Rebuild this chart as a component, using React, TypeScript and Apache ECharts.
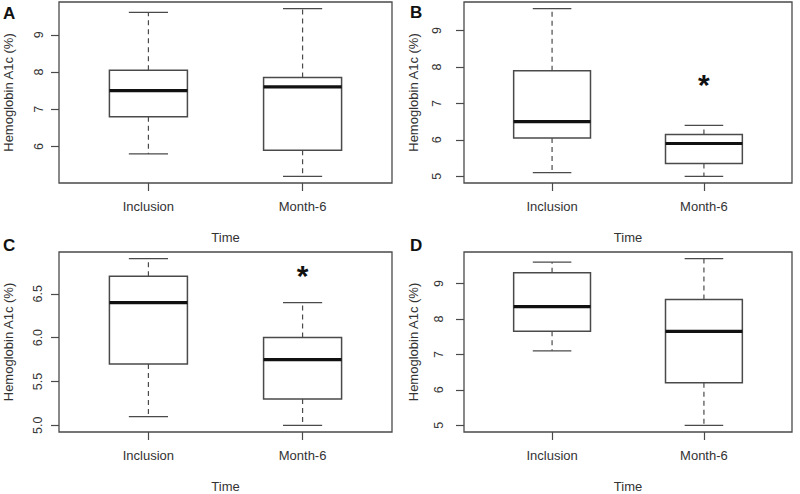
import React, { useEffect, useRef } from "react";
import * as echarts from "echarts";

// ---- data ----
const categories = ["Inclusion", "Month-6"];
// each row: [lower whisker, Q1, median, Q3, upper whisker]
const panelA = [
  [5.8, 6.8, 7.5, 8.05, 9.6],
  [5.2, 5.9, 7.6, 7.85, 9.7],
];
const panelB = [
  [5.1, 6.05, 6.5, 7.9, 9.6],
  [5.0, 5.35, 5.9, 6.15, 6.4],
];
const panelC = [
  [5.1, 5.7, 6.4, 6.7, 6.9],
  [5.0, 5.3, 5.75, 6.0, 6.4],
];
const panelD = [
  [7.1, 7.65, 8.35, 9.3, 9.6],
  [5.0, 6.2, 7.65, 8.55, 9.7],
];
const ticksA = [6, 7, 8, 9];
const ticksB = [5, 6, 7, 8, 9];
const ticksC = [5.0, 5.5, 6.0, 6.5];
const ticksD = [5, 6, 7, 8, 9];
// significance markers: [category position, value]
const starB = [[2, 7.59]];
const starC = [[2, 6.74]];
const panelLetters = ["A", "B", "C", "D"];

const FONT = "Liberation Sans, Arial, Helvetica, sans-serif";
const LINE = "#4a4a4a";

function rRange(rows: number[][]) {
  const lo = Math.min(...rows.map((r) => r[0]));
  const hi = Math.max(...rows.map((r) => r[4]));
  const pad = (hi - lo) * 0.04;
  return [lo - pad, hi + pad];
}

const panels = [
  { rows: panelA, ticks: ticksA, dec: 0, grid: { left: 59, top: 2, width: 333, height: 181 }, labMargin: 14, star: [] as number[][] },
  { rows: panelB, ticks: ticksB, dec: 0, grid: { left: 464, top: 2, width: 328, height: 181 }, labMargin: 21, star: starB },
  { rows: panelC, ticks: ticksC, dec: 1, grid: { left: 59, top: 252, width: 333, height: 182 }, labMargin: 15, star: starC },
  { rows: panelD, ticks: ticksD, dec: 0, grid: { left: 464, top: 252, width: 328, height: 182 }, labMargin: 19, star: [] as number[][] },
];

const letterPos = [
  [3, 13],
  [410, 12],
  [3, 245],
  [410, 245],
];

export default function App() {
  const ref = useRef<HTMLDivElement>(null);
  useEffect(() => {
    document.body.style.margin = "0";
    if (!ref.current) return;
    const chart = echarts.init(ref.current, null, { renderer: "svg" });

    const grid: any[] = [];
    const xAxis: any[] = [];
    const yAxis: any[] = [];
    const series: any[] = [];

    panels.forEach((p, i) => {
      grid.push({
        ...p.grid,
        show: true,
        borderColor: LINE,
        borderWidth: 1.3,
        backgroundColor: "transparent",
      });
      xAxis.push({
        type: "value",
        gridIndex: i,
        min: 0.42,
        max: 2.58,
        axisLine: { show: false },
        splitLine: { show: false },
        axisTick: {
          show: true,
          customValues: [1, 2],
          length: 8,
          lineStyle: { color: LINE, width: 1.2 },
        },
        axisLabel: {
          customValues: [1, 2],
          formatter: (v: number) => categories[Math.round(v) - 1],
          margin: 17,
          fontFamily: FONT,
          fontSize: 13,
          color: "#333",
        },
        name: "Time",
        nameLocation: "middle",
        nameGap: 48,
        nameTextStyle: { fontFamily: FONT, fontSize: 13, color: "#333" },
      });
      const [ymin, ymax] = rRange(p.rows);
      yAxis.push({
        type: "value",
        gridIndex: i,
        min: ymin,
        max: ymax,
        axisLine: { show: false },
        splitLine: { show: false },
        axisTick: {
          show: true,
          customValues: p.ticks,
          length: 8,
          lineStyle: { color: LINE, width: 1.2 },
        },
        axisLabel: {
          customValues: p.ticks,
          rotate: 90,
          formatter: (v: number) => v.toFixed(p.dec),
          margin: p.labMargin,
          fontFamily: FONT,
          fontSize: 12.5,
          color: "#333",
        },
        name: "Hemoglobin A1c (%)",
        nameLocation: "middle",
        nameRotate: 90,
        nameGap: 44,
        nameTextStyle: { fontFamily: FONT, fontSize: 13, color: "#333" },
      });
      series.push({
        type: "custom",
        xAxisIndex: i,
        yAxisIndex: i,
        data: p.rows.map((r, k) => [k + 1, ...r]),
        renderItem: (params: any, api: any) => {
          const x = api.value(0);
          const lo = api.value(1);
          const q1 = api.value(2);
          const med = api.value(3);
          const q3 = api.value(4);
          const hi = api.value(5);
          const hw = 0.253;
          const cw = 0.127;
          const c = (a: number, b: number) => api.coord([a, b]);
          const pLo = c(x, lo);
          const pQ1 = c(x, q1);
          const pQ3 = c(x, q3);
          const pHi = c(x, hi);
          const boxL = c(x - hw, q3);
          const boxR = c(x + hw, q1);
          const medL = c(x - hw, med);
          const medR = c(x + hw, med);
          const capHiL = c(x - cw, hi);
          const capHiR = c(x + cw, hi);
          const capLoL = c(x - cw, lo);
          const capLoR = c(x + cw, lo);
          const dash = { stroke: LINE, lineWidth: 1.2, lineDash: [5, 4] };
          const solid = { stroke: LINE, lineWidth: 1.3 };
          return {
            type: "group",
            children: [
              { type: "line", shape: { x1: pQ3[0], y1: pQ3[1], x2: pHi[0], y2: pHi[1] }, style: dash },
              { type: "line", shape: { x1: pQ1[0], y1: pQ1[1], x2: pLo[0], y2: pLo[1] }, style: dash },
              { type: "line", shape: { x1: capHiL[0], y1: capHiL[1], x2: capHiR[0], y2: capHiR[1] }, style: solid },
              { type: "line", shape: { x1: capLoL[0], y1: capLoL[1], x2: capLoR[0], y2: capLoR[1] }, style: solid },
              {
                type: "rect",
                shape: { x: boxL[0], y: boxL[1], width: boxR[0] - boxL[0], height: boxR[1] - boxL[1] },
                style: { fill: "#fff", stroke: LINE, lineWidth: 1.5 },
              },
              {
                type: "line",
                shape: { x1: medL[0], y1: medL[1], x2: medR[0], y2: medR[1] },
                style: { stroke: "#111", lineWidth: 3.2 },
              },
            ],
          };
        },
      });
      if (p.star.length) {
        series.push({
          type: "custom",
          xAxisIndex: i,
          yAxisIndex: i,
          data: p.star,
          renderItem: (params: any, api: any) => {
            const pt = api.coord([api.value(0), api.value(1)]);
            return {
              type: "text",
              x: pt[0],
              y: pt[1] + 3,
              style: {
                text: "*",
                font: `bold 30px ${FONT}`,
                fill: "#111",
                textAlign: "center",
                textVerticalAlign: "middle",
              },
            };
          },
        });
      }
    });

    const graphic = panelLetters.map((t, i) => ({
      type: "text",
      x: letterPos[i][0],
      y: letterPos[i][1],
      style: {
        text: t,
        font: `bold 17px ${FONT}`,
        fill: "#111",
        textVerticalAlign: "middle",
      },
    }));

    chart.setOption({
      animation: false,
      backgroundColor: "#fff",
      grid,
      xAxis,
      yAxis,
      series,
      graphic,
    });
    return () => chart.dispose();
  }, []);
  return <div ref={ref} style={{ width: 800, height: 494 }} />;
}
